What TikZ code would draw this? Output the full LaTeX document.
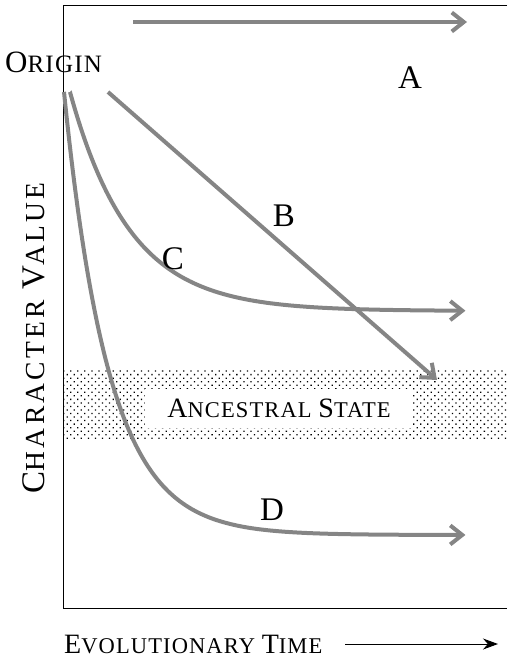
\documentclass[tikz,border=0pt]{standalone}
\usepackage{fontspec}
\setmainfont{Liberation Serif}
\newfontfamily\scfont[LetterSpace=5]{Liberation Serif}
\usetikzlibrary{arrows.meta}
\usetikzlibrary{patterns.meta}
\definecolor{mgray}{rgb}{0.52, 0.52, 0.52}
\newcommand{\fsz}[1]{\fontsize{#1}{#1}\selectfont}
\tikzset{trend/.style = {draw=mgray, line width=4pt, -{Straight Barb[length=12pt, width=19pt]}}}
\tikzset{tag/.style = {inner sep=0, font=\fsz{33}}}
\tikzset{caps/.style = {inner sep=0, font=\scfont}}

\begin{document}
\begin{tikzpicture}[x=1pt, y=-1pt]
      \useasboundingbox (0, 0) rectangle (507, 661);
      \fill [pattern={Dots[distance=5pt, angle=45, radius=0.9pt]}, pattern color=black]
      (63, 370) rectangle (507, 440);
      \draw [line width=0.9pt] (507, 5) -- (63, 5) -- (63, 608) -- (507, 608);
      \node [caps, anchor=base west] (origin) at (5, 73) {\fsz{31}O\fsz{25}RIGIN};
      \node [caps, rotate=90] (charval) at (34, 338)
      {\addfontfeature{LetterSpace=12}\fsz{33}C\fsz{27.5}HARACTER \fsz{33}V\fsz{27.5}ALUE};
      \node [caps, anchor=base west] (evotime) at (64, 653)
      {\fsz{28}E\fsz{22.5}VOLUTIONARY \fsz{28}T\fsz{22.5}IME};
      \node [caps, fill=white, minimum width=268pt, minimum height=39pt] (ancestral) at (279, 408)
      {\fsz{28}A\fsz{22.5}NCESTRAL \fsz{28}S\fsz{22.5}TATE};
      \coordinate (tfrom) at (345, 644);
      \coordinate (tto) at (498, 644);
      \draw [line width=0.9pt, -{Stealth[length=15pt, width=11pt]}] (tfrom) -- (tto);
      \coordinate (astart) at (133, 22);
      \coordinate (aend) at (467, 22);
      \draw [trend] (astart) -- (aend);
      \coordinate (bstart) at (108, 92);
      \coordinate (bend) at (437, 380);
      \draw [trend] (bstart) -- (bend);
      \draw [trend] plot [domain=0:1, samples=150, variable=\t]
      ({70 + 397*\t*\t}, {311 - 219*exp(-397*\t*\t/60)});
      \draw [trend] plot [domain=0:1, samples=150, variable=\t]
      ({64 + 403*\t*\t}, {535 - 443*exp(-403*\t*\t/45)});
      \node [tag] (la) at (410, 78) {A};
      \node [tag] (lb) at (284, 216) {B};
      \node [tag] (lc) at (173, 259) {C};
      \node [tag] (ld) at (272, 510) {D};
    \end{tikzpicture}
\end{document}
